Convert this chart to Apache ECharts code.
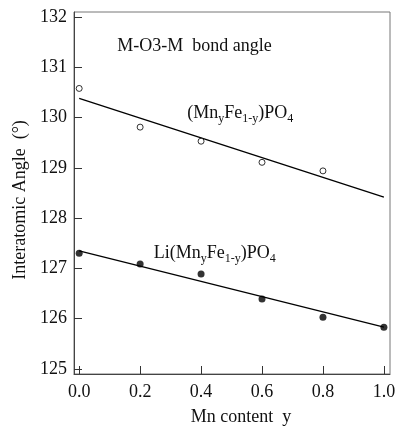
<!DOCTYPE html>
<html><head><meta charset="utf-8">
<script src="https://cdn.jsdelivr.net/npm/echarts@6/dist/echarts.min.js"></script>
<style>html,body{margin:0;padding:0;background:#fff}#c{width:396px;height:427px}</style>
</head><body><div id="c"></div>
<script>
const xValues = [0.0, 0.2, 0.4, 0.6, 0.8, 1.0];
const feOpen = [130.58, 129.81, 129.53, 129.11, 128.94];
const liFilled = [127.30, 127.09, 126.89, 126.39, 126.03, 125.83];
const feFitX = [0.0, 1.0];
const feFitY = [130.38, 128.42];
const liFitX = [0.0, 1.0];
const liFitY = [127.35, 125.83];
const yTicks = [125, 126, 127, 128, 129, 130, 131, 132];
const xTicks = [0.0, 0.2, 0.4, 0.6, 0.8, 1.0];
const labels = {
  title: 'M-O3-M  bond angle',
  yName: 'Interatomic Angle  (°)',
  xName: 'Mn content  y'
};

const font = '"Liberation Serif", "DejaVu Serif", serif';
const chart = echarts.init(document.getElementById('c'));
const pair = (xs, ys) => xs.map((x, i) => [x, ys[i]]).filter(p => p[1] != null);

chart.setOption({
  animation: false,
  grid: {left: 74, right: 6, top: 12, bottom: 53, show: true, borderColor: '#777', borderWidth: 1, outerBoundsMode: 'none', containLabel: false},
  xAxis: {
    type: 'value', min: -0.017, max: 1.02,
    axisLine: {show: true, onZero: false, lineStyle: {color: '#444', width: 1}},
    axisTick: {show: true, inside: true, length: 8, customValues: xTicks, lineStyle: {color: '#333'}},
    axisLabel: {customValues: xTicks, formatter: v => v.toFixed(1), color: '#111', fontFamily: font, fontSize: 18, margin: 9},
    splitLine: {show: false},
    name: labels.xName, nameLocation: 'middle', nameGap: 34,
    nameTextStyle: {color: '#111', fontFamily: font, fontSize: 18, padding: [0, 0, 0, 18]}
  },
  yAxis: {
    type: 'value', min: 124.9, max: 132.1,
    axisLine: {show: true, onZero: false, lineStyle: {color: '#444', width: 1}},
    axisTick: {show: true, inside: true, length: 8, customValues: yTicks, lineStyle: {color: '#333'}},
    axisLabel: {customValues: yTicks, color: '#111', fontFamily: font, fontSize: 18, margin: 7},
    splitLine: {show: false},
    name: labels.yName, nameLocation: 'middle', nameGap: 45, nameRotate: 90,
    nameTextStyle: {color: '#111', fontFamily: font, fontSize: 18, padding: [0, 14, 0, 0]}
  },
  series: [
    {type: 'line', data: pair(feFitX, feFitY), symbol: 'none', lineStyle: {color: '#000', width: 1.3}, z: 2},
    {type: 'line', data: pair(liFitX, liFitY), symbol: 'none', lineStyle: {color: '#000', width: 1.3}, z: 2},
    {type: 'scatter', data: pair(xValues, feOpen), symbol: 'circle', symbolSize: 6,
      itemStyle: {color: '#fff', borderColor: '#000', borderWidth: 1}, z: 3},
    {type: 'scatter', data: pair(xValues, liFilled), symbol: 'circle', symbolSize: 7,
      itemStyle: {color: '#000'}, z: 3}
  ]
});

const rich = {
  n: {fontFamily: font, fontSize: 18, color: '#111'},
  s: {fontFamily: font, fontSize: 12, color: '#111', padding: [10, 0, 0, 0]}
};
function place(v) { return chart.convertToPixel({gridIndex: 0}, v); }
const pTitle = place([0.125, 131.4]);
const pFe = place([0.355, 130.02]);
const pLi = place([0.245, 127.24]);
chart.setOption({
  graphic: [
    {type: 'text', left: pTitle[0], top: pTitle[1] - 10, style: {text: labels.title, font: '18px ' + font, fill: '#111'}},
    {type: 'text', left: pFe[0], top: pFe[1] - 12, style: {text: '{n|(Mn}{s|y}{n|Fe}{s|1-y}{n|)PO}{s|4}', rich: rich, font: '18px ' + font, fill: '#111'}},
    {type: 'text', left: pLi[0], top: pLi[1] - 12, style: {text: '{n|Li(Mn}{s|y}{n|Fe}{s|1-y}{n|)PO}{s|4}', rich: rich, font: '18px ' + font, fill: '#111'}}
  ]
});
</script></body></html>
